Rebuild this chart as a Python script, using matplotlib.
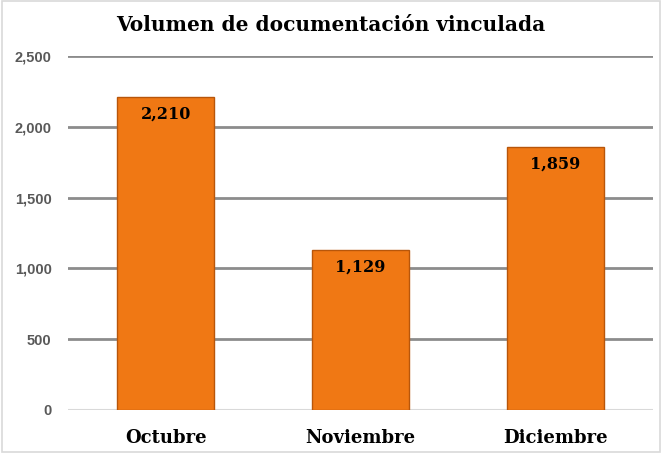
import matplotlib
matplotlib.use("Agg")
import matplotlib.pyplot as plt
from matplotlib.patches import Rectangle

months = ["Octubre", "Noviembre", "Diciembre"]
volumes = [2210, 1129, 1859]
y_ticks = [0, 500, 1000, 1500, 2000, 2500]
title = "Volumen de documentación vinculada"

bar_color = "#F07814"
edge_color = "#B8560A"

fig = plt.figure(figsize=(6.62, 4.53), dpi=100)
ax = fig.add_axes([0.103, 0.095, 0.883, 0.781])

for y in y_ticks:
    if y == 0:
        ax.axhline(y, color="#d9d9d9", lw=1.5, zorder=1)
    else:
        ax.axhline(y, color="#8c8c8c", lw=2.0, zorder=1)

x = range(len(months))
bars = ax.bar(x, volumes, width=0.5, color=bar_color, edgecolor=edge_color,
              linewidth=1.0, zorder=3)

for xi, v in zip(x, volumes):
    ax.text(xi, v - 60, f"{v:,}", ha="center", va="top", fontsize=11.5,
            fontweight="bold", family="DejaVu Serif", color="black", zorder=4)

ax.set_xlim(-0.5, 2.5)
ax.set_ylim(0, 2500)
ax.set_yticks(y_ticks)
ax.set_yticklabels([f"{t:,}" for t in y_ticks], fontsize=10.5, fontweight="bold",
                   family="Liberation Sans", color="#595959")
ax.set_xticks(list(x))
ax.set_xticklabels(months, fontsize=13, fontweight="bold", family="DejaVu Serif")
ax.tick_params(axis="both", length=0)
ax.tick_params(axis="y", pad=12)
ax.tick_params(axis="x", pad=14)
for s in ax.spines.values():
    s.set_visible(False)

fig.text(0.5, 0.945, title, ha="center", va="center", fontsize=14.5,
         fontweight="bold", family="DejaVu Serif")

fig.patches.append(Rectangle((0.003, 0.003), 0.994, 0.994, transform=fig.transFigure,
                             fill=False, edgecolor="#d9d9d9", lw=1.2))

fig.savefig("out.png", dpi=100)
